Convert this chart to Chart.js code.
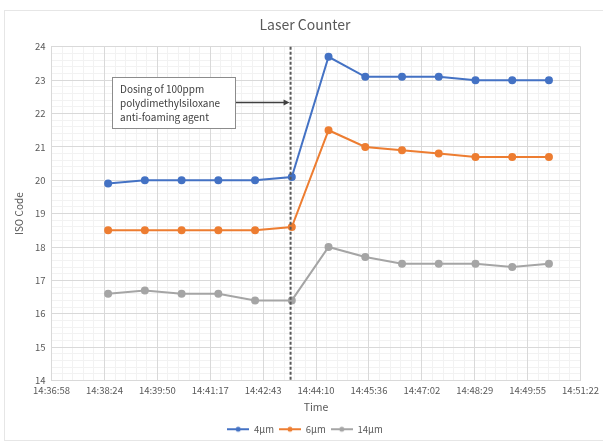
<!DOCTYPE html>
<html lang="en">
<head>
    <meta charset="UTF-8">
    <title>Laser Counter</title>
    <script src="https://cdn.jsdelivr.net/npm/chart.js"></script>
    <style>
        body {
            margin: 0;
            background: #fff;
        }
        .frame {
            position: absolute;
            left: 4px;
            top: 10px;
            width: 620px;
            height: 429px;
            border: 1px solid #e6e6e6;
        }
        .chart-box {
            position: absolute;
            left: 0;
            top: 0;
            width: 603px;
            height: 444px;
        }
    </style>
</head>
<body>
    <div class="frame"></div>
    <div class="chart-box">
        <canvas id="laserChart"></canvas>
    </div>

    <script>
        // Sample times (one per minute) and ISO codes per particle size
        const sampleTimes = ['14:38:30', '14:39:30', '14:40:30', '14:41:30', '14:42:30', '14:43:30', '14:44:30',
            '14:45:30', '14:46:30', '14:47:30', '14:48:30', '14:49:30', '14:50:30'];
        const iso4 = [19.9, 20.0, 20.0, 20.0, 20.0, 20.1, 23.7, 23.1, 23.1, 23.1, 23.0, 23.0, 23.0];
        const iso6 = [18.5, 18.5, 18.5, 18.5, 18.5, 18.6, 21.5, 21.0, 20.9, 20.8, 20.7, 20.7, 20.7];
        const iso14 = [16.6, 16.7, 16.6, 16.6, 16.4, 16.4, 18.0, 17.7, 17.5, 17.5, 17.5, 17.4, 17.5];
        const seriesNames = ['4µm', '6µm', '14µm'];
        const seriesColors = ['#4472c4', '#ed7d31', '#a5a5a5'];

        // Axis ticks (Excel day fractions 0.609 .. 0.619)
        const timeTickLabels = ['14:36:58', '14:38:24', '14:39:50', '14:41:17', '14:42:43', '14:44:10',
            '14:45:36', '14:47:02', '14:48:29', '14:49:55', '14:51:22'];
        const isoMin = 14;
        const isoMax = 24;

        const dosingTime = '14:43:28';
        const dosingNote = ['Dosing of 100ppm', 'polydimethylsiloxane', 'anti-foaming agent'];

        const FONT = '"Noto Sans CJK KR", "Noto Sans", sans-serif';
        const TEXT = '#595959';

        function toSec(t) {
            const p = t.split(':').map(Number);
            return p[0] * 3600 + p[1] * 60 + p[2];
        }

        const xTicks = timeTickLabels.map((t, i) => 0.609 * 86400 + i * 86.4);
        const xMin = xTicks[0];
        const xMax = xTicks[xTicks.length - 1];

        function lineMarker(color) {
            const c = document.createElement('canvas');
            c.width = 22; c.height = 8;
            const g = c.getContext('2d');
            g.strokeStyle = color; g.lineWidth = 2;
            g.beginPath(); g.moveTo(0, 4); g.lineTo(22, 4); g.stroke();
            g.fillStyle = color;
            g.beginPath(); g.arc(11, 4, 2.5, 0, Math.PI * 2); g.fill();
            return c;
        }

        const datasets = [iso4, iso6, iso14].map((vals, i) => ({
            label: seriesNames[i],
            data: vals.map((v, j) => ({ x: toSec(sampleTimes[j]), y: v })),
            borderColor: seriesColors[i],
            backgroundColor: seriesColors[i],
            borderWidth: 2,
            pointRadius: 3,
            pointHoverRadius: 3,
            pointStyle: 'circle',
            legendMarker: lineMarker(seriesColors[i]),
            tension: 0
        }));

        // dashed dosing line + note box with arrow
        const dosingPlugin = {
            id: 'dosing',
            afterDatasetsDraw(chart) {
                const { ctx, chartArea, scales } = chart;
                const x = scales.x.getPixelForValue(toSec(dosingTime));
                ctx.save();
                ctx.strokeStyle = '#595959';
                ctx.lineWidth = 2;
                ctx.setLineDash([3, 2]);
                ctx.beginPath();
                ctx.moveTo(x, chartArea.top);
                ctx.lineTo(x, chartArea.bottom);
                ctx.stroke();
                ctx.setLineDash([]);

                const bx = 112, by = 77, bw = 123, bh = 51;
                ctx.fillStyle = '#fff';
                ctx.fillRect(bx, by, bw, bh);
                ctx.strokeStyle = '#8c8c8c';
                ctx.lineWidth = 1;
                ctx.strokeRect(bx + 0.5, by + 0.5, bw, bh);
                ctx.fillStyle = '#404040';
                ctx.font = '10px ' + FONT;
                ctx.textBaseline = 'middle';
                dosingNote.forEach((line, i) => ctx.fillText(line, bx + 8, by + 12 + i * 14));

                const ay = by + bh / 2;
                ctx.strokeStyle = '#404040';
                ctx.lineWidth = 1.5;
                ctx.beginPath();
                ctx.moveTo(bx + bw + 1, ay);
                ctx.lineTo(x - 5, ay);
                ctx.stroke();
                ctx.fillStyle = '#404040';
                ctx.beginPath();
                ctx.moveTo(x - 1, ay);
                ctx.lineTo(x - 7, ay - 3);
                ctx.lineTo(x - 7, ay + 3);
                ctx.closePath();
                ctx.fill();
                ctx.restore();
            }
        };

        new Chart(document.getElementById('laserChart'), {
            type: 'line',
            data: { datasets },
            options: {
                responsive: true,
                maintainAspectRatio: false,
                animation: false,
                layout: { padding: { left: 13, right: 6, top: 6, bottom: 0 } },
                scales: {
                    xMinor: {
                        type: 'linear', position: 'bottom', display: true,
                        min: xMin, max: xMax,
                        afterBuildTicks(s) {
                            const t = [];
                            for (let v = xMin; v <= xMax + 0.1; v += 86.4 / 5) t.push({ value: v });
                            s.ticks = t;
                        },
                        afterFit(s) { s.height = 0; },
                        ticks: { display: false },
                        grid: { color: '#f2f2f2', drawTicks: false },
                        border: { display: false }
                    },
                    yMinor: {
                        type: 'linear', position: 'left', display: true,
                        min: isoMin, max: isoMax,
                        ticks: { display: false, stepSize: 0.2 },
                        afterFit(s) { s.width = 0; },
                        grid: { color: '#f2f2f2', drawTicks: false },
                        border: { display: false }
                    },
                    x: {
                        type: 'linear',
                        min: xMin, max: xMax,
                        afterBuildTicks(s) { s.ticks = xTicks.map(v => ({ value: v })); },
                        ticks: {
                            color: TEXT, font: { family: FONT, size: 9.5 },
                            maxRotation: 0, autoSkip: false, padding: 4,
                            callback: (v, i) => timeTickLabels[i]
                        },
                        grid: { color: '#d9d9d9', drawTicks: false },
                        border: { color: '#d9d9d9' },
                        title: { display: true, text: 'Time', color: TEXT, font: { family: FONT, size: 10.5 }, padding: { top: 1, bottom: 6 } }
                    },
                    y: {
                        min: isoMin, max: isoMax,
                        ticks: { stepSize: 1, color: TEXT, font: { family: FONT, size: 9.5 }, padding: 6 },
                        grid: { color: '#d9d9d9', drawTicks: false },
                        border: { color: '#d9d9d9' },
                        title: { display: true, text: 'ISO Code', color: TEXT, font: { family: FONT, size: 10 }, padding: { top: 0, bottom: 4 } }
                    }
                },
                plugins: {
                    title: {
                        display: true, text: 'Laser Counter', color: TEXT,
                        font: { family: FONT, size: 14, weight: 'normal' },
                        padding: { top: 10, bottom: 14 }
                    },
                    legend: {
                        position: 'bottom',
                        labels: {
                            color: TEXT, font: { family: FONT, size: 9.5 },
                            usePointStyle: true, pointStyleWidth: 22, boxHeight: 8, padding: 5,
                            generateLabels(chart) {
                                return chart.data.datasets.map((d, i) => ({
                                    text: d.label,
                                    pointStyle: d.legendMarker,
                                    fillStyle: d.borderColor,
                                    strokeStyle: d.borderColor,
                                    fontColor: TEXT,
                                    lineWidth: 0,
                                    datasetIndex: i
                                }));
                            }
                        }
                    },
                    tooltip: { enabled: false }
                }
            },
            plugins: [dosingPlugin]
        });
    </script>
</body>
</html>
